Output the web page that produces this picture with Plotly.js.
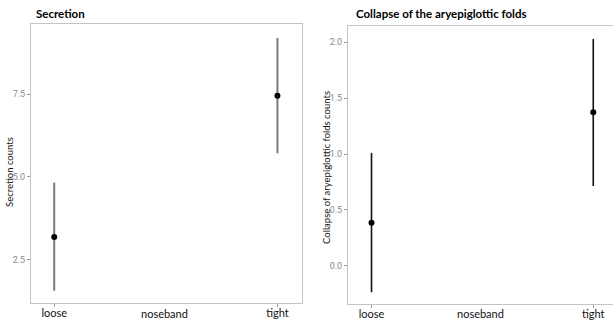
<!DOCTYPE html>
<html>
<head>
<meta charset="utf-8">
<script src="https://cdn.plot.ly/plotly-3.0.1.min.js"></script>
<style>html,body{margin:0;padding:0;background:#fff;}#chart{width:613px;height:322px;}</style>
</head>
<body>
<div id="chart"></div>
<script>
const categories = ["loose", "tight"];
const secretionMean = [3.18, 7.45];
const secretionLower = [1.55, 5.71];
const secretionUpper = [4.82, 9.20];
const collapseMean = [0.385, 1.374];
const collapseLower = [-0.238, 0.713];
const collapseUpper = [1.01, 2.03];
const secretionTicks = [2.5, 5.0, 7.5];
const collapseTicks = [0.0, 0.5, 1.0, 1.5, 2.0];

function errs(mean, lo, hi) {
  return {
    plus: mean.map((m, i) => hi[i] - m),
    minus: mean.map((m, i) => m - lo[i])
  };
}
const e1 = errs(secretionMean, secretionLower, secretionUpper);
const e2 = errs(collapseMean, collapseLower, collapseUpper);

const traces = [
  {
    x: categories, y: secretionMean, type: 'scatter', mode: 'markers',
    xaxis: 'x', yaxis: 'y',
    marker: {color: '#000', size: 6},
    error_y: {type: 'data', symmetric: false, array: e1.plus, arrayminus: e1.minus,
      color: '#7a7a7a', thickness: 2, width: 0},
    showlegend: false, hoverinfo: 'none'
  },
  {
    x: categories, y: collapseMean, type: 'scatter', mode: 'markers',
    xaxis: 'x2', yaxis: 'y2',
    marker: {color: '#000', size: 6},
    error_y: {type: 'data', symmetric: false, array: e2.plus, arrayminus: e2.minus,
      color: '#111', thickness: 1.6, width: 0},
    showlegend: false, hoverinfo: 'none'
  }
];

const tickFont = {family: '"Liberation Sans Narrow", "Roboto", Arial', size: 9, color: '#8a8a8a'};
const xFont = {family: 'Lato, "Open Sans", sans-serif', size: 11, color: '#111'};
const titleFont = {family: 'Lato, "Open Sans", sans-serif', size: 11.5, color: '#000'};
const yTitleFont = {family: 'Lato, "Open Sans", sans-serif', size: 9.5, color: '#111'};

const axisCommon = {
  showline: true, mirror: true, linecolor: '#c4c4c4', linewidth: 1,
  showgrid: false, zeroline: false, ticks: 'outside', ticklen: 3, tickcolor: '#9a9a9a'
};

const layout = {
  width: 613, height: 322,
  margin: {l: 0, r: 0, t: 0, b: 0},
  paper_bgcolor: '#fff', plot_bgcolor: '#fff',
  xaxis: Object.assign({}, axisCommon, {
    domain: [31/613, 302/613], type: 'category', range: [-0.104, 1.11],
    tickfont: xFont, ticklabelstandoff: -3, anchor: 'y'
  }),
  yaxis: Object.assign({}, axisCommon, {
    domain: [1 - 303/322, 1 - 24/322], range: [1.18, 9.62],
    tickvals: secretionTicks, ticktext: secretionTicks.map(v => v.toFixed(1)),
    tickfont: tickFont, anchor: 'x'
  }),
  xaxis2: Object.assign({}, axisCommon, {
    domain: [348/613, 1], type: 'category', range: [-0.106, 1.089],
    tickfont: xFont, ticklabelstandoff: -3, anchor: 'y2'
  }),
  yaxis2: Object.assign({}, axisCommon, {
    domain: [1 - 304/322, 1 - 26/322], range: [-0.343, 2.146],
    tickvals: collapseTicks, ticktext: collapseTicks.map(v => v.toFixed(1)),
    tickfont: tickFont, anchor: 'x2'
  }),
  annotations: [
    {text: '<b>Secretion</b>', xref: 'paper', yref: 'paper', x: 34/613, y: 1 - 13/322,
      xanchor: 'left', yanchor: 'middle', showarrow: false, font: titleFont},
    {text: '<b>Collapse of the aryepiglottic folds</b>', xref: 'paper', yref: 'paper', x: 354/613, y: 1 - 14/322,
      xanchor: 'left', yanchor: 'middle', showarrow: false, font: titleFont},
    {text: 'Secretion counts', xref: 'paper', yref: 'paper', x: 9/613, y: 1 - 172/322,
      xanchor: 'center', yanchor: 'middle', textangle: -90, showarrow: false, font: yTitleFont},
    {text: 'Collapse of aryepiglottic folds counts', xref: 'paper', yref: 'paper', x: 326/613, y: 1 - 167/322,
      xanchor: 'center', yanchor: 'middle', textangle: -90, showarrow: false, font: yTitleFont},
    {text: 'noseband', xref: 'paper', yref: 'paper', x: 164/613, y: 1 - 313/322,
      xanchor: 'center', yanchor: 'middle', showarrow: false, font: xFont},
    {text: 'noseband', xref: 'paper', yref: 'paper', x: 481/613, y: 1 - 313/322,
      xanchor: 'center', yanchor: 'middle', showarrow: false, font: xFont}
  ]
};

Plotly.newPlot('chart', traces, layout, {staticPlot: true, displayModeBar: false});
</script>
</body>
</html>
